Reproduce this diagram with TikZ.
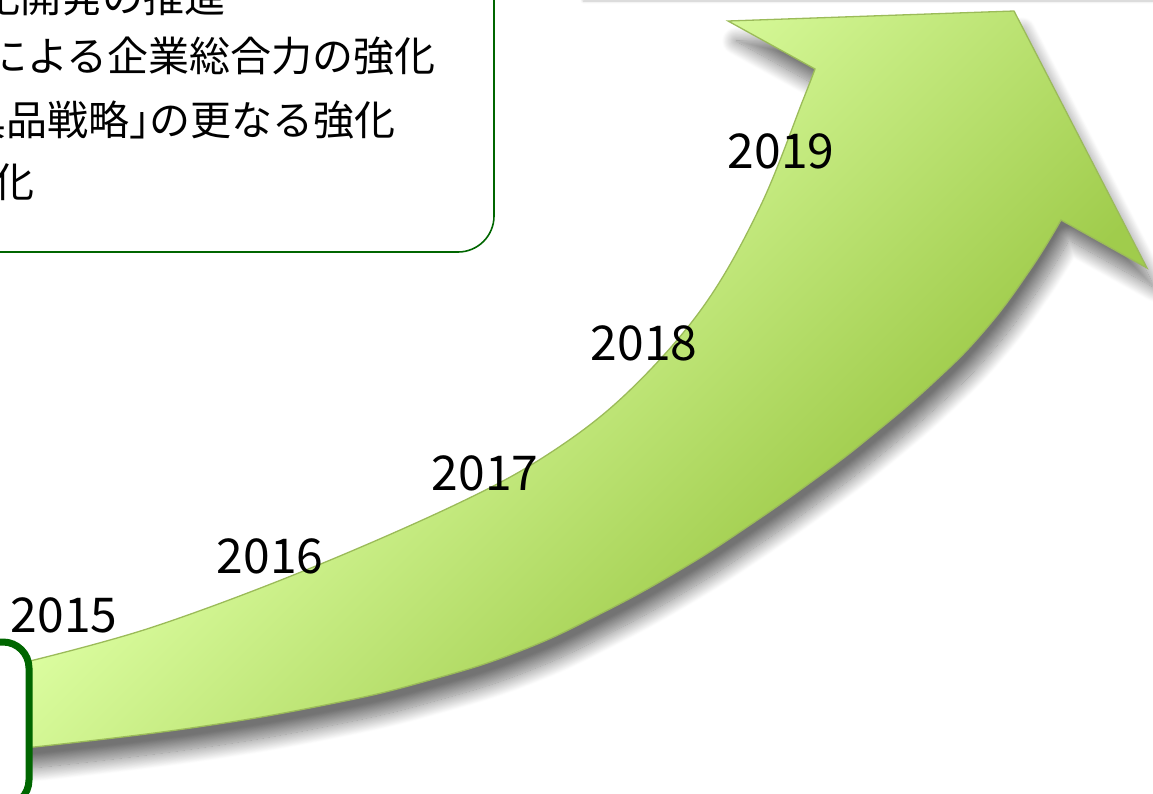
\documentclass[tikz,border=0pt]{standalone}
\usepackage{fontspec}
\setmainfont{Noto Sans CJK JP}
\usepackage{tikz}
\usetikzlibrary{shadows.blur}

\definecolor{verdescuro}{RGB}{0,102,0}
\definecolor{bordofreccia}{RGB}{155,187,89}
\definecolor{chiaro}{RGB}{218,252,158}
\definecolor{scuro}{RGB}{160,204,76}

\pgfdeclareverticalshading{sfumatura}{100bp}{color(0bp)=(scuro); color(40.5bp)=(scuro); color(57bp)=(chiaro); color(100bp)=(chiaro)}

% contorno della freccia
\def\freccia{(-20,674) -- plot[smooth, tension=0.6] coordinates {(34,660) (153,627) (306,570) (459,503) (550,453) (627,393) (703,307) (760,207) (803,100) (815,69)}
  -- (728,21) -- (1014,11) -- (1147,268)
  -- plot[smooth, tension=0.75] coordinates {(1061,220) (1030,270) (985,330) (933,383) (870,437) (818,477) (750,525) (680,570) (600,614) (520,651) (430,680) (330,704) (191,728) (34,747)}
  -- (-20,752) -- cycle}

\begin{document}
\begin{tikzpicture}[x=1pt, y=-1pt,
    anno/.style={font=\fontsize{48}{48}\selectfont, inner sep=0pt, anchor=base},
    riga/.style={font=\fontsize{41}{41}\selectfont, inner sep=0pt, anchor=east}]

    \useasboundingbox (0,0) rectangle (1153,793);

    % riquadro in alto a destra
    \path[fill=white, blur shadow={shadow xshift=0pt, shadow yshift=-2pt, shadow blur radius=2.5pt, shadow opacity=22}] (583,-60) rectangle (1200,-1);

    % freccia
    \path[blur shadow={shadow xshift=8pt, shadow yshift=-20pt, shadow blur radius=14pt, shadow opacity=55, shadow blur steps=20}] \freccia;
    \begin{scope}
        \clip \freccia;
        \shade[shading=sfumatura, shading angle=45] (-125,-300) rectangle (1275,1100);
    \end{scope}
    \draw[bordofreccia, line width=1.3] \freccia;

    % riquadro del testo
    \draw[verdescuro, line width=1.6, fill=white, rounded corners=36] (-60,-80) rectangle (494,252);
    \node[riga] (riga1) at (226,-3) {化開発の推進};
    \node[riga] (riga2) at (436,56) {による企業総合力の強化};
    \node[riga] (riga3) at (396,120) {具品戦略」\kern-.5em の更なる強化};
    \node[riga] (riga4) at (35,182) {化};

    % riquadro in basso a sinistra
    \draw[verdescuro, line width=7, fill=white, rounded corners=26] (-80,642) rectangle (29,806);

    % anni
    \node[anno] (a2015) at (64,632) {2015};
    \node[anno] (a2016) at (270,573) {2016};
    \node[anno] (a2017) at (485,490) {2017};
    \node[anno] (a2018) at (644,360) {2018};
    \node[anno] (a2019) at (781,168) {2019};

\end{tikzpicture}
\end{document}
